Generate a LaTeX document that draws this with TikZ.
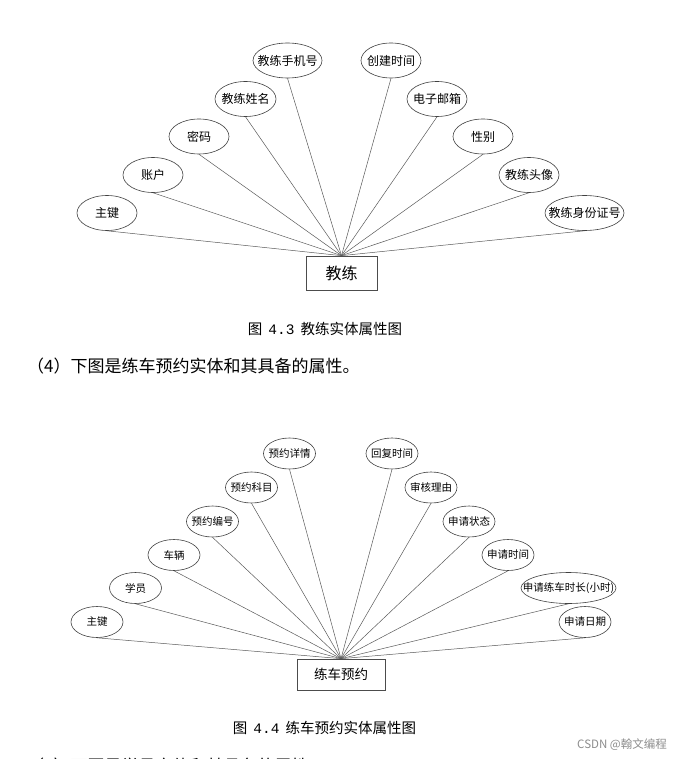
\documentclass[tikz,border=0pt]{standalone}
\usepackage{fontspec}
\setmainfont{Noto Sans CJK SC}
\newfontfamily\capmono{Liberation Mono}
\usepackage{tikz}
\usetikzlibrary{shapes.geometric}

\begin{document}
\begin{tikzpicture}[x=1pt, y=-1pt,
    attr/.style={ellipse, draw=black!75, line width=0.6pt, inner sep=0pt},
    entity/.style={rectangle, draw=black!70, line width=0.7pt, inner sep=0pt},
    link/.style={draw=black!65, line width=0.5pt},
    caption/.style={inner sep=0pt, font=\fontsize{14.5}{16}\selectfont}]
    \useasboundingbox (0,0) rectangle (675,759);

    % Coach entity
    \node[entity, minimum width=71, minimum height=34, font=\fontsize{16}{18}\selectfont] (coach) at (341.5,273) {教练};
    \coordinate (coachtop) at (coach.north);

    % Coach attributes
    \foreach \i/\x/\y/\w/\lbl in {%
        1/107/213/60/主键,%
        2/153/175/60/账户,%
        3/199/136.5/60/密码,%
        4/245.5/99/61/教练姓名,%
        5/287.5/60.5/69/教练手机号,%
        6/391/60.5/60/创建时间,%
        7/437/99/60/电子邮箱,%
        8/483/136.5/60/性别,%
        9/529/175/60/教练头像,%
        10/584.5/213/79/教练身份证号%
    } {
        \node[attr, minimum width=\w, minimum height=35, font=\fontsize{12}{14}\selectfont] (ca\i) at (\x,\y) {\makebox[0pt]{\lbl}};
        \draw[link] (ca\i.south) -- (coachtop);
    }

    % Caption and text
    \node[caption] (cap1) at (325,329) {图\hspace{6pt}{\capmono 4.3}\hspace{6pt}教练实体属性图};
    \node[inner sep=0pt, anchor=west, font=\fontsize{17}{19}\selectfont] (para4) at (27,366) {（4）下图是练车预约实体和其具备的属性。};

    % Booking entity
    \node[entity, minimum width=88, minimum height=31, font=\fontsize{13.5}{15}\selectfont] (book) at (341,674.5) {练车预约};
    \coordinate (booktop) at (book.north);

    % Booking attributes
    \foreach \i/\x/\y/\w/\lbl in {%
        1/97/622/52/主键,%
        2/135.5/588/52/学员,%
        3/174/555/52/车辆,%
        4/212.5/521.5/52/预约编号,%
        5/251.5/487.5/52/预约科目,%
        6/289.5/453.5/52/预约详情,%
        7/392/453.5/52/回复时间,%
        8/431/487.5/52/审核理由,%
        9/469/521.5/52/申请状态,%
        10/508/555/52/申请时间,%
        11/568.5/588/95/申请练车时长(小时),%
        12/585/622/52/申请日期%
    } {
        \node[attr, minimum width=\w, minimum height=31, font=\fontsize{10.5}{12}\selectfont] (ba\i) at (\x,\y) {\makebox[0pt]{\lbl}};
        \draw[link] (ba\i.south) -- (booktop);
    }

    \node[caption] (cap2) at (324.5,728) {图\hspace{6pt}{\capmono 4.4}\hspace{6pt}练车预约实体属性图};

    % Watermark and cut-off line
    \node[inner sep=0pt, anchor=east, text=black!45, font=\fontsize{11.5}{13}\selectfont] (mark) at (667,745) {CSDN @翰文编程};
    \node[inner sep=0pt, anchor=base west, font=\fontsize{17}{19}\selectfont] (para5) at (27,772) {（5）下图是学员实体和其具备的属性。};
\end{tikzpicture}
\end{document}
